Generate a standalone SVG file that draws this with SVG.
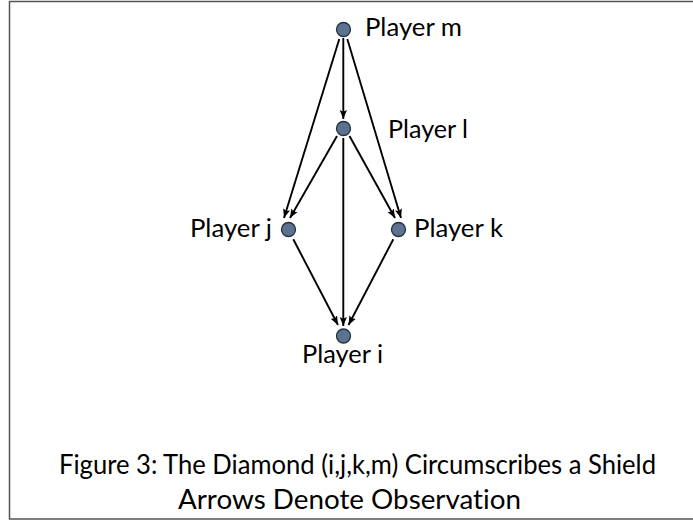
<svg xmlns="http://www.w3.org/2000/svg" width="693" height="521" viewBox="0 0 693 521">
<style>
.node circle{fill:#5b7290;stroke:#26303c;stroke-width:1.3}
.lbl{font-family:Lato,"Open Sans","Liberation Sans",sans-serif;font-size:25px;fill:#000;font-variant-ligatures:none}
.cap{font-family:Lato,"Open Sans","Liberation Sans",sans-serif;font-size:26px;fill:#000;font-variant-ligatures:none}
.edge{stroke:#000;stroke-width:1.9;fill:none;marker-end:url(#ah)}
</style>
<defs>
<marker id="ah" viewBox="0 0 10 8" refX="10" refY="4" markerUnits="userSpaceOnUse" markerWidth="9" markerHeight="8" orient="auto">
<path d="M0,0 L10,4 L0,8 L2,4 z" fill="#000"/>
</marker>
</defs>
<rect x="9.5" y="1.5" width="700" height="517.5" fill="#fff" stroke="#555" stroke-width="1.5"/>
<g id="connectors">
<line class="edge" x1="343.3" y1="38" x2="343.3" y2="119"/>
<line class="edge" x1="339.3" y1="39" x2="284" y2="218"/>
<line class="edge" x1="347.3" y1="39" x2="401" y2="218"/>
<line class="edge" x1="337" y1="136" x2="290" y2="218"/>
<line class="edge" x1="349.5" y1="136" x2="395" y2="218"/>
<line class="edge" x1="343.3" y1="138" x2="343.3" y2="326"/>
<line class="edge" x1="293.3" y1="239.3" x2="338" y2="325"/>
<line class="edge" x1="393.3" y1="239.3" x2="348.5" y2="325"/>
</g>
<g id="node-m" class="node"><circle cx="343.5" cy="29.5" r="7"/><text class="lbl" x="365" y="36" textLength="97" lengthAdjust="spacingAndGlyphs">Player m</text></g>
<g id="node-l" class="node"><circle cx="343.5" cy="128.5" r="7"/><text class="lbl" x="388" y="138" textLength="80" lengthAdjust="spacingAndGlyphs">Player l</text></g>
<g id="node-j" class="node"><circle cx="288.5" cy="229.5" r="7"/><text class="lbl" x="190" y="237" textLength="82" lengthAdjust="spacingAndGlyphs">Player j</text></g>
<g id="node-k" class="node"><circle cx="398.5" cy="229.5" r="7"/><text class="lbl" x="414" y="237" textLength="89" lengthAdjust="spacingAndGlyphs">Player k</text></g>
<g id="node-i" class="node"><circle cx="343.5" cy="336" r="7"/><text class="lbl" x="302" y="363" textLength="81" lengthAdjust="spacingAndGlyphs">Player i</text></g>
<g id="caption">
<text class="cap" x="59" y="474" textLength="597" lengthAdjust="spacingAndGlyphs">Figure 3: The Diamond (i,j,k,m) Circumscribes a Shield</text>
<text class="cap" x="178" y="509" textLength="343" lengthAdjust="spacingAndGlyphs">Arrows Denote Observation</text>
</g>
</svg>
